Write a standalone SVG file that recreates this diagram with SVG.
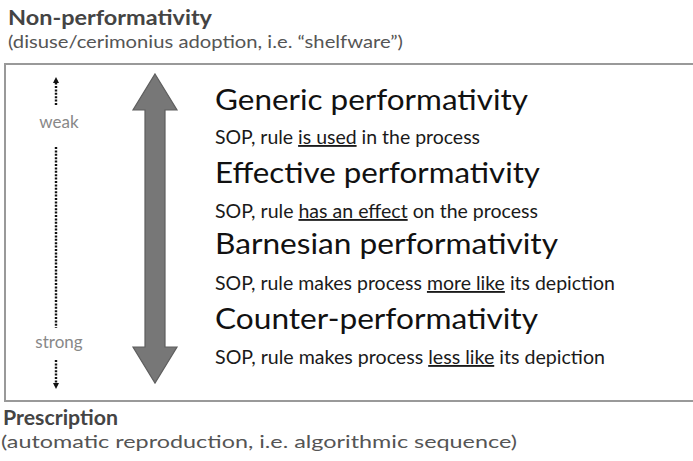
<svg xmlns="http://www.w3.org/2000/svg" width="693" height="461" viewBox="0 0 693 461">
<style>
  text { font-family: Lato, "Open Sans", "Liberation Sans", sans-serif; }
  .hdr { font-weight: bold; font-size: 20px; fill: #444; }
  .note { font-size: 18px; fill: #555; }
  .h { font-size: 28px; fill: #111; }
  .s { font-size: 18.5px; fill: #1a1a1a; }
  .u { text-decoration: underline; }
  .lbl { font-size: 17px; fill: #888; text-anchor: middle; }
  .dot { stroke: #111; stroke-width: 2.4; stroke-dasharray: 2 1.4; fill: none; }
</style>
<defs>
  <marker id="ah" markerWidth="6" markerHeight="6" refX="3" refY="3" orient="auto" markerUnits="userSpaceOnUse">
    <path d="M0,0 L6,3 L0,6 Z" fill="#111"/>
  </marker>
</defs>
<rect width="693" height="461" fill="#fff"/>

<g id="top-label">
  <text class="hdr" x="8" y="25" textLength="204" lengthAdjust="spacingAndGlyphs">Non-performativity</text>
  <text class="note" x="8" y="48" textLength="395" lengthAdjust="spacingAndGlyphs">(disuse/cerimonius adoption, i.e. “shelfware”)</text>
</g>

<g id="frame">
  <rect x="5" y="64" width="700" height="337" fill="#fff" stroke="#999" stroke-width="2"/>
</g>

<g id="scale">
  <text class="lbl" x="59" y="128">weak</text>
  <text class="lbl" x="59" y="348">strong</text>
</g>

<g id="connectors">
  <line class="dot" x1="56" y1="105" x2="56" y2="80" marker-end="url(#ah)" stroke-width="1.8"/>
  <line class="dot" x1="56" y1="147" x2="56" y2="328"/>
  <line class="dot" x1="56" y1="360" x2="56" y2="386" marker-end="url(#ah)" stroke-width="1.8"/>
  <polygon points="155,74 177,110 165,110 165,347 177,347 155,383 133,347 145,347 145,110 133,110" fill="#777" stroke="#5e5e5e" stroke-width="1.2"/>
</g>

<g id="generic">
  <text class="h" x="215" y="110" textLength="313" lengthAdjust="spacingAndGlyphs">Generic performativity</text>
  <text class="s" x="215" y="144" textLength="265" lengthAdjust="spacingAndGlyphs">SOP, rule <tspan class="u">is used</tspan> in the process</text>
</g>
<g id="effective">
  <text class="h" x="215" y="183" textLength="325" lengthAdjust="spacingAndGlyphs">Effective performativity</text>
  <text class="s" x="215" y="218" textLength="323" lengthAdjust="spacingAndGlyphs">SOP, rule <tspan class="u">has an effect</tspan> on the process</text>
</g>
<g id="barnesian">
  <text class="h" x="215" y="254" textLength="343" lengthAdjust="spacingAndGlyphs">Barnesian performativity</text>
  <text class="s" x="215" y="290" textLength="400" lengthAdjust="spacingAndGlyphs">SOP, rule makes process <tspan class="u">more like</tspan> its depiction</text>
</g>
<g id="counter">
  <text class="h" x="215" y="329" textLength="323" lengthAdjust="spacingAndGlyphs">Counter-performativity</text>
  <text class="s" x="215" y="364" textLength="390" lengthAdjust="spacingAndGlyphs">SOP, rule makes process <tspan class="u">less like</tspan> its depiction</text>
</g>

<g id="bottom-label">
  <text class="hdr" x="3" y="425" textLength="115" lengthAdjust="spacingAndGlyphs">Prescription</text>
  <text class="note" x="1" y="448" textLength="516" lengthAdjust="spacingAndGlyphs">(automatic reproduction, i.e. algorithmic sequence)</text>
</g>
</svg>
